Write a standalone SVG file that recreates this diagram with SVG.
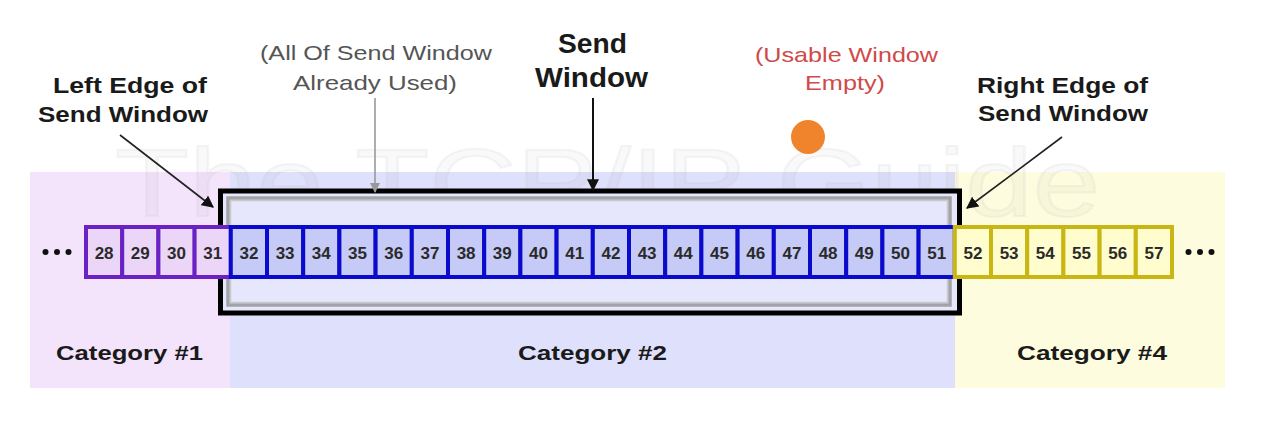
<svg xmlns="http://www.w3.org/2000/svg" width="1269" height="444" viewBox="0 0 1269 444">
<style>
.lbl{font-family:"Liberation Sans",Arial,sans-serif;font-weight:bold;fill:#1a1a1a;text-anchor:middle}
.note{font-family:"Liberation Sans",Arial,sans-serif;font-size:21px;text-anchor:middle}
.num{font-family:"Liberation Sans",Arial,sans-serif;font-weight:bold;font-size:17px;fill:#2a2a2a;text-anchor:middle}
.c1{fill:#ecd6f7;stroke:#6a22c4;stroke-width:4}
.c2{fill:#c6caf6;stroke:#0a0acc;stroke-width:4}
.c4{fill:#fffcce;stroke:#c9b612;stroke-width:4}
.dot{fill:#111}
</style>
<defs>
<marker id="ah" viewBox="0 0 10 10" refX="9" refY="5" markerWidth="12" markerHeight="12" markerUnits="userSpaceOnUse" orient="auto">
<path d="M0,0 L10,5 L0,10 z" fill="#111"/>
</marker>
<marker id="ahg" viewBox="0 0 10 10" refX="9" refY="5" markerWidth="10" markerHeight="10" markerUnits="userSpaceOnUse" orient="auto">
<path d="M0,0 L10,5 L0,10 z" fill="#999"/>
</marker>
</defs>
<rect width="1269" height="444" fill="#ffffff"/>
<g id="backgrounds">
<rect x="30" y="172" width="200" height="216" fill="#f3e3fb"/>
<rect x="230" y="172" width="725" height="216" fill="#dfe0fb"/>
<rect x="955" y="172" width="270" height="216" fill="#fdfcdf"/>
</g>
<g id="watermark">
<text x="115" y="216" font-family="'Liberation Sans',Arial,sans-serif" font-size="96" textLength="985" lengthAdjust="spacingAndGlyphs" fill="#000" fill-opacity="0.025" stroke="#c8c8c8" stroke-opacity="0.18" stroke-width="2">The TCP/IP Guide</text>
</g>
<g id="send-window">
<rect x="220.5" y="191" width="739" height="122" fill="#e6e7fc" stroke="#000" stroke-width="5"/>
<rect x="228" y="198" width="722" height="107" fill="none" stroke="#a3a3a6" stroke-width="3.5"/>
<rect x="230.5" y="200.5" width="717" height="102" fill="none" stroke="#c8c8ce" stroke-width="1.5"/>
</g>
<g id="cells">
<g id="cell-28"><rect class="c1" x="86" y="227" width="36.2" height="50"/><text class="num" x="104.1" y="259">28</text></g>
<g id="cell-29"><rect class="c1" x="122.2" y="227" width="36.2" height="50"/><text class="num" x="140.3" y="259">29</text></g>
<g id="cell-30"><rect class="c1" x="158.4" y="227" width="36.2" height="50"/><text class="num" x="176.5" y="259">30</text></g>
<g id="cell-31"><rect class="c1" x="194.6" y="227" width="36.2" height="50"/><text class="num" x="212.7" y="259">31</text></g>
<g id="cell-32"><rect class="c2" x="230.8" y="227" width="36.2" height="50"/><text class="num" x="248.9" y="259">32</text></g>
<g id="cell-33"><rect class="c2" x="267" y="227" width="36.2" height="50"/><text class="num" x="285.1" y="259">33</text></g>
<g id="cell-34"><rect class="c2" x="303.2" y="227" width="36.2" height="50"/><text class="num" x="321.3" y="259">34</text></g>
<g id="cell-35"><rect class="c2" x="339.4" y="227" width="36.2" height="50"/><text class="num" x="357.5" y="259">35</text></g>
<g id="cell-36"><rect class="c2" x="375.6" y="227" width="36.2" height="50"/><text class="num" x="393.7" y="259">36</text></g>
<g id="cell-37"><rect class="c2" x="411.8" y="227" width="36.2" height="50"/><text class="num" x="429.9" y="259">37</text></g>
<g id="cell-38"><rect class="c2" x="448" y="227" width="36.2" height="50"/><text class="num" x="466.1" y="259">38</text></g>
<g id="cell-39"><rect class="c2" x="484.2" y="227" width="36.2" height="50"/><text class="num" x="502.3" y="259">39</text></g>
<g id="cell-40"><rect class="c2" x="520.4" y="227" width="36.2" height="50"/><text class="num" x="538.5" y="259">40</text></g>
<g id="cell-41"><rect class="c2" x="556.6" y="227" width="36.2" height="50"/><text class="num" x="574.7" y="259">41</text></g>
<g id="cell-42"><rect class="c2" x="592.8" y="227" width="36.2" height="50"/><text class="num" x="610.9" y="259">42</text></g>
<g id="cell-43"><rect class="c2" x="629" y="227" width="36.2" height="50"/><text class="num" x="647.1" y="259">43</text></g>
<g id="cell-44"><rect class="c2" x="665.2" y="227" width="36.2" height="50"/><text class="num" x="683.3" y="259">44</text></g>
<g id="cell-45"><rect class="c2" x="701.4" y="227" width="36.2" height="50"/><text class="num" x="719.5" y="259">45</text></g>
<g id="cell-46"><rect class="c2" x="737.6" y="227" width="36.2" height="50"/><text class="num" x="755.7" y="259">46</text></g>
<g id="cell-47"><rect class="c2" x="773.8" y="227" width="36.2" height="50"/><text class="num" x="791.9" y="259">47</text></g>
<g id="cell-48"><rect class="c2" x="810" y="227" width="36.2" height="50"/><text class="num" x="828.1" y="259">48</text></g>
<g id="cell-49"><rect class="c2" x="846.2" y="227" width="36.2" height="50"/><text class="num" x="864.3" y="259">49</text></g>
<g id="cell-50"><rect class="c2" x="882.4" y="227" width="36.2" height="50"/><text class="num" x="900.5" y="259">50</text></g>
<g id="cell-51"><rect class="c2" x="918.6" y="227" width="36.2" height="50"/><text class="num" x="936.7" y="259">51</text></g>
<g id="cell-52"><rect class="c4" x="954.8" y="227" width="36.2" height="50"/><text class="num" x="972.9" y="259">52</text></g>
<g id="cell-53"><rect class="c4" x="991" y="227" width="36.2" height="50"/><text class="num" x="1009.1" y="259">53</text></g>
<g id="cell-54"><rect class="c4" x="1027.2" y="227" width="36.2" height="50"/><text class="num" x="1045.3" y="259">54</text></g>
<g id="cell-55"><rect class="c4" x="1063.4" y="227" width="36.2" height="50"/><text class="num" x="1081.5" y="259">55</text></g>
<g id="cell-56"><rect class="c4" x="1099.6" y="227" width="36.2" height="50"/><text class="num" x="1117.7" y="259">56</text></g>
<g id="cell-57"><rect class="c4" x="1135.8" y="227" width="36.2" height="50"/><text class="num" x="1153.9" y="259">57</text></g>
</g>
<g id="ellipses">
<circle class="dot" cx="45.5" cy="252" r="3"/><circle class="dot" cx="57" cy="252" r="3"/><circle class="dot" cx="68.5" cy="252" r="3"/>
<circle class="dot" cx="1188.5" cy="252" r="3"/><circle class="dot" cx="1200" cy="252" r="3"/><circle class="dot" cx="1211.5" cy="252" r="3"/>
</g>
<g id="labels">
<text class="lbl" x="130" y="93" font-size="22" textLength="154" lengthAdjust="spacingAndGlyphs">Left Edge of</text>
<text class="lbl" x="123" y="122" font-size="22" textLength="170" lengthAdjust="spacingAndGlyphs">Send Window</text>
<text class="note" x="376" y="60" fill="#555" textLength="232" lengthAdjust="spacingAndGlyphs">(All Of Send Window</text>
<text class="note" x="375" y="90" fill="#555" textLength="164" lengthAdjust="spacingAndGlyphs">Already Used)</text>
<text class="lbl" x="592.5" y="53" font-size="27" textLength="69" lengthAdjust="spacingAndGlyphs">Send</text>
<text class="lbl" x="591.5" y="87" font-size="27" textLength="113" lengthAdjust="spacingAndGlyphs">Window</text>
<text class="note" x="846.5" y="62" fill="#d04a4a" textLength="183" lengthAdjust="spacingAndGlyphs">(Usable Window</text>
<text class="note" x="845" y="90" fill="#d04a4a" textLength="80" lengthAdjust="spacingAndGlyphs">Empty)</text>
<text class="lbl" x="1062.5" y="93" font-size="22" textLength="171" lengthAdjust="spacingAndGlyphs">Right Edge of</text>
<text class="lbl" x="1063" y="121" font-size="22" textLength="170" lengthAdjust="spacingAndGlyphs">Send Window</text>
<text class="lbl" x="129.5" y="360" font-size="21" textLength="147" lengthAdjust="spacingAndGlyphs">Category #1</text>
<text class="lbl" x="592.5" y="360" font-size="21" textLength="149" lengthAdjust="spacingAndGlyphs">Category #2</text>
<text class="lbl" x="1092" y="360" font-size="21" textLength="150" lengthAdjust="spacingAndGlyphs">Category #4</text>
</g>
<g id="connectors">
<line x1="120" y1="135" x2="213" y2="207" stroke="#222" stroke-width="1.6" marker-end="url(#ah)"/>
<line x1="375" y1="98" x2="375" y2="192" stroke="#999" stroke-width="1.6" marker-end="url(#ahg)"/>
<line x1="593" y1="98" x2="593" y2="190" stroke="#111" stroke-width="2" marker-end="url(#ah)"/>
<line x1="1062" y1="137" x2="967" y2="208" stroke="#222" stroke-width="1.6" marker-end="url(#ah)"/>
</g>
<g id="pointer">
<circle cx="808" cy="137" r="17" fill="#f0842c"/>
</g>
</svg>
